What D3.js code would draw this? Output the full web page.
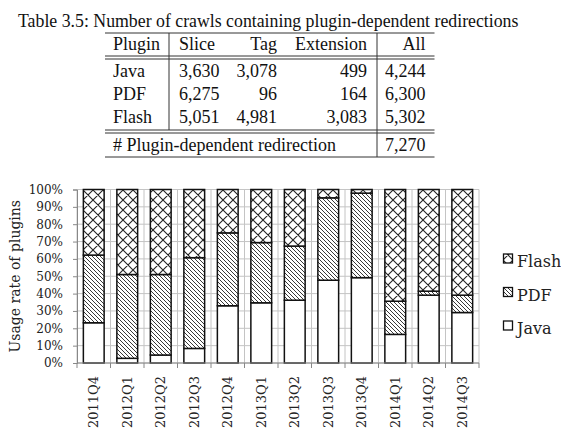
<!DOCTYPE html>
<html><head><meta charset="utf-8">
<script src="https://cdn.jsdelivr.net/npm/d3@7"></script>
<style>body{margin:0;background:#fff} svg{display:block}</style>
</head><body><svg id="c" width="561" height="434"></svg>
<script>
// ---------- data ----------
const caption = "Table 3.5: Number of crawls containing plugin-dependent redirections";
const tableHeader = ["Plugin", "Slice", "Tag", "Extension", "All"];
const tablePlugins = ["Java", "PDF", "Flash"];
const tableSlice = ["3,630", "6,275", "5,051"];
const tableTag = ["3,078", "96", "4,981"];
const tableExtension = ["499", "164", "3,083"];
const tableAll = ["4,244", "6,300", "5,302"];
const totalLabel = "# Plugin-dependent redirection";
const totalValue = "7,270";

const quarters = ["2011Q4","2012Q1","2012Q2","2012Q3","2012Q4","2013Q1","2013Q2","2013Q3","2013Q4","2014Q1","2014Q2","2014Q3"];
const java  = [23.2, 2.7, 4.6, 8.4, 33.0, 34.7, 36.2, 47.7, 49.2, 16.5, 39.1, 29.1];
const pdf   = [39.0, 48.3, 46.4, 52.3, 42.0, 34.7, 31.2, 47.5, 48.7, 19.1, 2.3, 10.0];
const flash = [37.8, 49.0, 49.0, 39.3, 25.0, 30.6, 32.6, 4.8, 2.1, 64.4, 58.6, 60.9];
const yTicks = [0, 10, 20, 30, 40, 50, 60, 70, 80, 90, 100];
const seriesNames = ["Java", "PDF", "Flash"];
const yTitle = "Usage rate of plugins";

// ---------- setup ----------
const svg = d3.select("#c");
const serifT = "'Liberation Serif', 'Times New Roman', serif";
const serifC = "'DejaVu Serif', serif";

// patterns
const defs = svg.append("defs");
const pf = defs.append("pattern").attr("id", "pat-Flash").attr("patternUnits", "userSpaceOnUse")
  .attr("width", 10).attr("height", 10).attr("x", 3).attr("y", 0);
pf.append("rect").attr("width", 10).attr("height", 10).attr("fill", "#fff");
pf.append("path").attr("d", "M0,0L10,10M10,0L0,10M-1,1L1,-1M9,11L11,9M-1,9L1,11M9,-1L11,1")
  .attr("stroke", "#222").attr("stroke-width", 1.1);
const pp = defs.append("pattern").attr("id", "pat-PDF").attr("patternUnits", "userSpaceOnUse")
  .attr("width", 4).attr("height", 4);
pp.append("rect").attr("width", 4).attr("height", 4).attr("fill", "#fff");
pp.append("path").attr("d", "M0,0L4,4M-1,3L1,5M3,-1L5,1")
  .attr("stroke", "#222").attr("stroke-width", 0.9);
const fills = { Java: "#fff", PDF: "url(#pat-PDF)", Flash: "url(#pat-Flash)" };

// ---------- table ----------
const tfs = 18;
svg.append("text").attr("x", 18).attr("y", 27).attr("font-family", serifT).attr("font-size", 17.8)
  .attr("fill", "#111").text(caption);

const tL = 105, tR = 434.5;
const colX = { plugin: 113, slice: 179, tag: 277, ext: 367, all: 425.5 };
const lineCol = "#333";
function hline(y) {
  svg.append("line").attr("x1", tL).attr("x2", tR).attr("y1", y).attr("y2", y)
    .attr("stroke", lineCol).attr("stroke-width", 1);
}
function vline(x, y1, y2) {
  svg.append("line").attr("x1", x).attr("x2", x).attr("y1", y1).attr("y2", y2)
    .attr("stroke", lineCol).attr("stroke-width", 1);
}
hline(33); hline(56); hline(59); hline(130); hline(133); hline(157);
vline(169, 33, 130);
vline(377, 33, 157);

function cell(txt, x, y, anchor) {
  svg.append("text").attr("x", x).attr("y", y).attr("text-anchor", anchor)
    .attr("font-family", serifT).attr("font-size", tfs).attr("fill", "#111").text(txt);
}
const hy = 50;
cell(tableHeader[0], colX.plugin, hy, "start");
cell(tableHeader[1], colX.slice, hy, "start");
cell(tableHeader[2], colX.tag, hy, "end");
cell(tableHeader[3], colX.ext, hy, "end");
cell(tableHeader[4], colX.all, hy, "end");
tablePlugins.forEach((p, i) => {
  const y = 77 + i * 23;
  cell(p, colX.plugin, y, "start");
  cell(tableSlice[i], colX.slice, y, "start");
  cell(tableTag[i], colX.tag, y, "end");
  cell(tableExtension[i], colX.ext, y, "end");
  cell(tableAll[i], colX.all, y, "end");
});
cell(totalLabel, colX.plugin, 151, "start");
cell(totalValue, colX.all, 151, "end");

// ---------- chart ----------
const px0 = 77, px1 = 479, py0 = 363, py1 = 189.5;
const x = d3.scaleBand().domain(quarters).range([px0, px1]).paddingInner(0.38).paddingOuter(0.19);
const y = d3.scaleLinear().domain([0, 100]).range([py0, py1]);

const g = svg.append("g");
g.selectAll(".hg").data(yTicks).join("line")
  .attr("x1", px0).attr("x2", px1).attr("y1", d => y(d)).attr("y2", d => y(d))
  .attr("stroke", "#c4c4c4").attr("stroke-width", 1);
const bounds = d3.range(quarters.length + 1).map(i => px0 + i * (px1 - px0) / quarters.length);
g.selectAll(".vg").data(bounds).join("line")
  .attr("x1", d => d).attr("x2", d => d).attr("y1", py1).attr("y2", py0)
  .attr("stroke", "#c4c4c4").attr("stroke-width", 1);

const rows = quarters.map((q, i) => ({ q, Java: java[i], PDF: pdf[i], Flash: flash[i] }));
const stack = d3.stack().keys(seriesNames)(rows);
stack.forEach(layer => {
  g.selectAll(".b-" + layer.key).data(layer).join("rect")
    .attr("x", d => x(d.data.q)).attr("width", x.bandwidth())
    .attr("y", d => y(d[1])).attr("height", d => y(d[0]) - y(d[1]))
    .attr("fill", fills[layer.key]).attr("stroke", "#111").attr("stroke-width", 1.5);
});

const yAxis = d3.axisLeft(y).tickValues(yTicks).tickFormat(d => d + "%").tickSize(4).tickPadding(10);
const ya = svg.append("g").attr("transform", `translate(${px0},0)`).call(yAxis);
ya.select(".domain").attr("stroke", "#888");
ya.selectAll(".tick line").attr("stroke", "#888");
ya.selectAll("text").attr("font-family", serifC).attr("font-size", 12).attr("fill", "#222");

const xa = svg.append("g").attr("transform", `translate(0,${py0})`);
xa.append("line").attr("x1", px0).attr("x2", px1).attr("y1", 0).attr("y2", 0).attr("stroke", "#888");
xa.selectAll(".xt").data(bounds).join("line")
  .attr("x1", d => d).attr("x2", d => d).attr("y1", 0).attr("y2", 5).attr("stroke", "#888");
xa.selectAll(".xl").data(quarters).join("text")
  .attr("transform", d => `translate(${x(d) + x.bandwidth() / 2 + 4.5},13) rotate(-90)`)
  .attr("text-anchor", "end").attr("font-family", serifC).attr("font-size", 13).attr("fill", "#222")
  .text(d => d);

svg.append("text").attr("transform", `translate(20,${(py0 + py1) / 2}) rotate(-90)`)
  .attr("text-anchor", "middle").attr("font-family", serifC).attr("font-size", 14).attr("fill", "#222")
  .text(yTitle);

const legendOrder = ["Flash", "PDF", "Java"];
const lg = svg.append("g");
legendOrder.forEach((k, i) => {
  const ly = 254 + i * 33.5;
  lg.append("rect").attr("x", 503.5).attr("y", ly).attr("width", 9).attr("height", 9)
    .attr("fill", fills[k]).attr("stroke", "#111").attr("stroke-width", 1.3);
  lg.append("text").attr("x", 517).attr("y", ly + 13).attr("font-family", serifC).attr("font-size", 16)
    .attr("fill", "#222").text(k);
});
</script></body></html>
